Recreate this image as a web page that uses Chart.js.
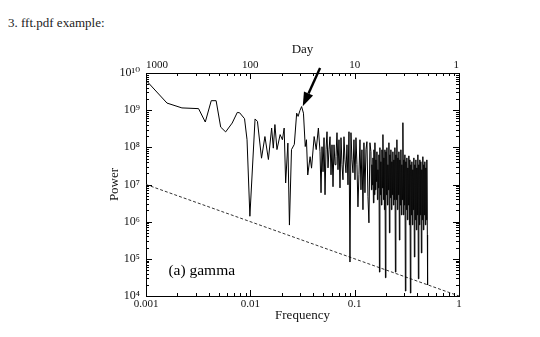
<!DOCTYPE html>
<html>
<head>
<meta charset="utf-8">
<script src="https://cdn.jsdelivr.net/npm/chart.js@4.4.1/dist/chart.umd.min.js"></script>
<style>
  body { margin: 0; background: #fff; }
  #wrap { position: relative; width: 540px; height: 337px; }
  #heading { position: absolute; left: 8px; top: 15px; font: 13px "Liberation Serif", serif; color: #222; }
  canvas { position: absolute; left: 0; top: 0; }
</style>
</head>
<body>
<div id="wrap">
  <div id="heading">3. fft.pdf example:</div>
  <canvas id="fft" width="540" height="337"></canvas>
</div>
<script>
// power spectrum (frequency in 1/day)
const freq = [
  0.00102, 0.00159, 0.00221, 0.00319, 0.0037, 0.00422, 0.0047, 0.0052, 0.0058, 0.0067,
  0.0075, 0.0079, 0.0088, 0.0093, 0.0099, 0.0111, 0.0117, 0.0128, 0.0138, 0.0149,
  0.0160, 0.0166, 0.0172, 0.0180, 0.0193, 0.0203, 0.0211, 0.0218, 0.0229, 0.0237,
  0.0248, 0.0264, 0.0278, 0.0287, 0.0299, 0.0310, 0.0323, 0.0336, 0.0345, 0.0355,
  0.0374, 0.0386, 0.0409, 0.0428, 0.0449,
  0.04656, 0.04760, 0.04866, 0.04974, 0.05085, 0.05198, 0.05314, 0.05432, 0.05553, 0.05677,
  0.05803, 0.05933, 0.06065, 0.06200, 0.06338, 0.06479, 0.06623, 0.06771, 0.06921, 0.07076,
  0.07233, 0.07394, 0.07559, 0.07727, 0.07899, 0.08075, 0.08255, 0.08439, 0.08627, 0.08819,
  0.09015, 0.09216, 0.09421, 0.09632, 0.09847, 0.1007, 0.1029, 0.1052, 0.1075, 0.1099,
  0.1124, 0.1149, 0.1174, 0.1201, 0.1227, 0.1255, 0.1283, 0.1311, 0.1341, 0.1370,
  0.1401,
  0.1432, 0.1448, 0.1464, 0.1480, 0.1497, 0.1513, 0.1530, 0.1547, 0.1564, 0.1581,
  0.1599, 0.1617, 0.1634, 0.1652, 0.1671, 0.1690, 0.1708, 0.1727, 0.1746, 0.1765,
  0.1785, 0.1805, 0.1825, 0.1845, 0.1866, 0.1887, 0.1907, 0.1928, 0.1950, 0.1972,
  0.1993, 0.2015, 0.2037, 0.2060, 0.2083, 0.2106, 0.2129, 0.2153, 0.2177, 0.2201,
  0.2225, 0.2250, 0.2275, 0.2300, 0.2325, 0.2351, 0.2377, 0.2403, 0.2430, 0.2457,
  0.2484, 0.2512, 0.2540, 0.2568, 0.2596, 0.2625, 0.2654, 0.2683, 0.2713, 0.2743,
  0.2774, 0.2805, 0.2836, 0.2867, 0.2899, 0.2931, 0.2963, 0.2996, 0.3029, 0.3063,
  0.3097, 0.3131, 0.3166, 0.3201, 0.3236, 0.3272, 0.3308, 0.3345, 0.3382, 0.3420,
  0.3457, 0.3495, 0.3534, 0.3573, 0.3613, 0.3653, 0.3693, 0.3734, 0.3776, 0.3818,
  0.3860, 0.3903, 0.3946, 0.3990, 0.4034, 0.4079, 0.4124, 0.4170, 0.4216, 0.4263,
  0.4310, 0.4358, 0.4406, 0.4455, 0.4504, 0.4554, 0.4604, 0.4655, 0.4707, 0.4759,
  0.4812, 0.4865, 0.4919, 0.4974, 0.5
];
const power = [
  6.0e9, 1.55e9, 1.15e9, 1.1e9, 4.8e8, 1.8e9, 1.8e9, 3.5e8, 2.6e8, 4.5e8,
  8.7e8, 8.5e8, 5.9e8, 1.6e8, 1.4e6, 5.8e8, 5.0e8, 5.1e7, 1.95e8, 4.7e7,
  3.3e8, 9.5e7, 4.1e8, 8.7e7, 2.2e8, 1.6e8, 3.3e8, 1.1e7, 1.3e8, 8.1e5,
  8.7e7, 1.2e8, 8.3e8, 6.8e8, 9.8e8, 1.25e9, 8.3e8, 1.05e8, 1.6e8, 1.8e7,
  5.6e7, 2.75e7, 1.95e8, 8.7e7, 3.3e8,
  7.6e7, 6.0e6, 1.04e8, 2.2e7, 1.82e8, 5.3e6, 8.6e7, 2.63e8, 2.8e7, 8.6e7,
  1.93e8, 1.82e7, 1.17e8, 8.7e6, 1.17e8, 3.4e7, 5.6e7, 2.48e8, 2.5e7, 1.6e8,
  8.1e6, 1.82e8, 3.4e7, 1.34e7, 1.93e8, 4.6e7, 2.07e7, 1.17e8, 9.8e6, 2.63e8,
  8.2e4, 2.48e8, 4.6e7, 2.07e7, 1.6e8, 1.34e7, 1.82e8, 3.4e7, 2.5e6, 1.82e7,
  1.6e8, 7.2e6, 8.6e7, 2.1e6, 1.33e8, 6.0e6, 8.6e7, 1.42e8, 4.7e6, 9.3e5,
  1.33e8,
  7.6e7, 7.2e6, 3.4e7, 9.8e6, 5.2e7, 3.2e6, 8.6e7, 5.3e6, 1.33e8, 7.2e6,
  4.6e7, 1.2e7, 7.6e7, 3.9e6, 2.5e7, 8.1e6, 6.3e7, 4.4e4, 9.8e7, 5.3e6,
  4.1e7, 2.8e6, 8.6e7, 8.1e6, 2.2e8, 3.9e6, 5.2e7, 2.1e6, 8.6e7, 3.1e4,
  7.6e7, 5.3e6, 9.8e7, 2.8e6, 3.4e7, 7.2e6, 1.33e8, 5.0e5, 6.3e7, 4.4e6,
  8.6e7, 2.1e6, 4.1e7, 5.3e6, 7.6e7, 2.8e6, 4.6e7, 3.9e6, 9.8e7, 4.4e4,
  6.3e7, 3.9e6, 1.6e8, 2.1e6, 5.2e7, 5.3e6, 7.6e7, 3.2e5, 4.6e7, 2.8e6,
  8.6e7, 1.52e6, 3.4e7, 3.9e6, 4.6e8, 1.52e6, 4.6e7, 2.8e6, 6.3e7, 1.36e4,
  4.1e7, 2.1e6, 5.2e7, 1.12e6, 2.8e7, 2.8e6, 5.9e7, 8.2e5, 4.6e7, 1.2e4,
  3.4e7, 1.52e6, 4.1e7, 8.2e5, 2.5e7, 2.1e6, 5.2e7, 1.12e5, 3.4e7, 1.12e6,
  4.6e7, 6.0e5, 2.8e7, 1.52e6, 6.3e7, 2.9e4, 3.4e7, 8.2e5, 4.6e7, 1.52e6,
  4.1e7, 1.44e5, 2.5e7, 1.12e6, 5.6e7, 6.0e5, 3.4e7, 1.52e6, 4.1e7, 8.2e5,
  2.8e7, 1.12e6, 4.6e7, 4.4e5, 2.0e4
];
// dashed reference line
const refFreq = [0.001, 1];
const refPower = [1e7, 1e4];

const freqTicks = [0.001, 0.01, 0.1, 1];
const freqLabels = ["0.001", "0.01", "0.1", "1"];
const dayLabels = ["1000", "100", "10", "1"];
const powerTicks = [1e4, 1e5, 1e6, 1e7, 1e8, 1e9, 1e10];
const powerLabels = ["10\u2074", "10\u2075", "10\u2076", "10\u2077", "10\u2078", "10\u2079", "10\u00b9\u2070"];

const arrowTail = [0.0466, 1.37e10];
const arrowTip = [0.0318, 1.27e9];
const noteText = "(a) gamma";
const noteAt = [0.00164, 3.7e4];

const serif = "'Liberation Serif', 'DejaVu Serif', serif";

//major ticks at decades, minor ticks 2..9 in between
function logTicks(decades) {
  const out = [];
  decades.forEach((d, i) => {
    out.push({ value: d });
    if (i < decades.length - 1) {
      for (let m = 2; m < 10; m++) out.push({ value: m * d });
    }
  });
  return out;
}
const labelFrom = (list, labels) => (v) => {
  const i = list.indexOf(v);
  return i < 0 ? "" : labels[i];
};

//tick marks drawn inwards on all four sides
const insideTicks = {
  id: "insideTicks",
  afterDatasetsDraw(chart) {
    const ctx = chart.ctx;
    const a = chart.chartArea;
    ctx.save();
    ctx.strokeStyle = "#000";
    ctx.lineWidth = 1;
    ctx.beginPath();
    const s = chart.scales.x;
    s.ticks.forEach((t) => {
      const px = Math.round(s.getPixelForValue(t.value)) + 0.5;
      const len = freqTicks.includes(t.value) ? 6 : 3;
      ctx.moveTo(px, a.bottom); ctx.lineTo(px, a.bottom - len);
      ctx.moveTo(px, a.top); ctx.lineTo(px, a.top + len);
    });
    const y = chart.scales.y;
    y.ticks.forEach((t) => {
      const py = Math.round(y.getPixelForValue(t.value)) + 0.5;
      const len = powerTicks.includes(t.value) ? 6 : 3;
      ctx.moveTo(a.left, py); ctx.lineTo(a.left + len, py);
      ctx.moveTo(a.right, py); ctx.lineTo(a.right - len, py);
    });
    ctx.stroke();
    ctx.restore();
  },
};

//arrow and panel label
const annotate = {
  id: "annotate",
  afterDraw(chart) {
    const ctx = chart.ctx;
    const x = chart.scales.x, y = chart.scales.y;
    const x0 = x.getPixelForValue(arrowTail[0]), y0 = y.getPixelForValue(arrowTail[1]);
    const x1 = x.getPixelForValue(arrowTip[0]), y1 = y.getPixelForValue(arrowTip[1]);
    const ang = Math.atan2(y1 - y0, x1 - x0);
    const head = 14, half = 5;
    const bx = x1 - head * Math.cos(ang), by = y1 - head * Math.sin(ang);
    ctx.save();
    ctx.strokeStyle = "#000";
    ctx.fillStyle = "#000";
    ctx.lineWidth = 2.4;
    ctx.beginPath();
    ctx.moveTo(x0, y0);
    ctx.lineTo(bx, by);
    ctx.stroke();
    ctx.beginPath();
    ctx.moveTo(x1, y1);
    ctx.lineTo(bx + half * Math.sin(ang), by - half * Math.cos(ang));
    ctx.lineTo(bx - half * Math.sin(ang), by + half * Math.cos(ang));
    ctx.closePath();
    ctx.fill();

    ctx.font = "15.5px " + serif;
    ctx.textAlign = "left";
    ctx.textBaseline = "alphabetic";
    ctx.fillText(noteText, x.getPixelForValue(noteAt[0]), y.getPixelForValue(noteAt[1]));
    ctx.restore();
  },
};

const tickFont = { family: serif, size: 11 };
const titleFont = { family: serif, size: 13 };

new Chart(document.getElementById("fft"), {
  type: "line",
  plugins: [insideTicks, annotate],
  data: {
    datasets: [
      {
        data: freq.map((f, i) => ({ x: f, y: power[i] })),
        borderColor: "#000",
        borderWidth: 1,
        borderJoinStyle: "round",
        pointRadius: 0,
        tension: 0,
      },
      {
        data: refFreq.map((f, i) => ({ x: f, y: refPower[i] })),
        borderColor: "#333",
        borderWidth: 1,
        borderDash: [3, 2],
        pointRadius: 0,
      },
    ],
  },
  options: {
    responsive: false,
    animation: false,
    layout: { padding: { left: 103, right: 80, top: 38, bottom: 10 } },
    plugins: { legend: { display: false }, tooltip: { enabled: false } },
    scales: {
      x: {
        type: "logarithmic",
        position: "bottom",
        min: 0.001,
        max: 1,
        afterBuildTicks: (s) => { s.ticks = logTicks(freqTicks); },
        afterFit: (s) => { s.height = 31; },
        grid: { display: false, drawTicks: false },
        border: { display: true, color: "#000", width: 1 },
        ticks: {
          autoSkip: false, maxRotation: 0, padding: 2, color: "#111", font: tickFont,
          callback: labelFrom(freqTicks, freqLabels),
        },
        title: { display: true, text: "Frequency", color: "#111", font: titleFont },
      },
      x2: {
        type: "logarithmic",
        position: "top",
        min: 0.001,
        max: 1,
        afterBuildTicks: (s) => { s.ticks = logTicks(freqTicks); },
        afterFit: (s) => { s.height = 35; },
        grid: { display: false, drawTicks: false },
        border: { display: true, color: "#000", width: 1 },
        ticks: {
          autoSkip: false, maxRotation: 0, padding: 1, align: "inner", color: "#111", font: tickFont,
          callback: labelFrom(freqTicks, dayLabels),
        },
        title: { display: true, text: "Day", color: "#111", font: titleFont },
      },
      y: {
        type: "logarithmic",
        position: "left",
        min: 1e4,
        max: 1e10,
        afterBuildTicks: (s) => { s.ticks = logTicks(powerTicks); },
        afterFit: (s) => { s.width = 43; },
        grid: { display: false, drawTicks: false },
        border: { display: true, color: "#000", width: 1 },
        ticks: {
          autoSkip: false, padding: 6, color: "#111", font: { family: serif, size: 12 },
          callback: labelFrom(powerTicks, powerLabels),
        },
        title: { display: true, text: "Power", color: "#111", font: titleFont },
      },
      y2: {
        type: "logarithmic",
        position: "right",
        min: 1e4,
        max: 1e10,
        afterBuildTicks: (s) => { s.ticks = logTicks(powerTicks); },
        afterFit: (s) => { s.width = 1; },
        grid: { display: false, drawTicks: false },
        border: { display: true, color: "#000", width: 1 },
        ticks: { display: false },
      },
    },
  },
});
</script>
</body>
</html>
